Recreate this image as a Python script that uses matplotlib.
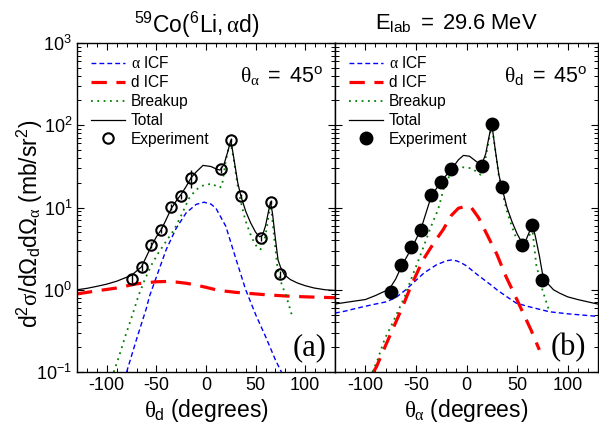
"""Angular correlations for 59Co(6Li, alpha d) at 29.6 MeV."""

import matplotlib

matplotlib.use("Agg")

import matplotlib.pyplot as plt
import numpy as np
from matplotlib.lines import Line2D
from matplotlib.ticker import FixedLocator, FuncFormatter, LogLocator, MultipleLocator, NullFormatter

plt.rcParams["font.family"] = "Liberation Sans"
plt.rcParams["mathtext.fontset"] = "custom"
plt.rcParams["mathtext.rm"] = "Liberation Sans"
plt.rcParams["mathtext.it"] = "Liberation Serif"
plt.rcParams["mathtext.default"] = "it"
plt.rcParams["axes.unicode_minus"] = False

# ---- data: panel (a), theta_alpha = 45 deg, versus theta_d ----
theta_exp = [-75, -65, -55, -45, -35, -25, -15, 15, 25, 35, 55, 65, 75]
a_exp = [1.37, 1.87, 3.5, 5.3, 10.1, 13.7, 23, 29, 66, 13.7, 4.3, 11.7, 1.55]
a_err = [0.12, 0.1, 0.08, 0.08, 0.08, 0.08, 0.25, 0.1, 0.06, 0.06, 0.08, 0.06, 0.1]

a_total_x = [-130, -120, -110, -100, -90, -80, -75, -65, -55, -50, -45, -40, -35, -30, -25, -20, -15,
             -10, -3, 5, 10, 14, 18, 22, 25, 28, 32, 35, 40, 45, 50, 54, 57, 60, 63, 65, 67, 70, 72.6,
             75, 79, 85, 92, 100, 109, 120, 130]
a_total_y = [1.0, 1.04, 1.1, 1.17, 1.27, 1.42, 1.5, 1.9, 3.4, 4.4, 5.4, 7.2, 9.7, 12, 14.5, 18, 23,
             27, 32.5, 31.5, 29.5, 28.5, 33, 48, 66, 40, 20, 14, 9, 6.5, 5, 4.4, 4.6, 6, 9, 11.7, 8.5,
             4.1, 2.3, 1.9, 1.52, 1.33, 1.21, 1.12, 1.05, 1.0, 0.98]

a_breakup_x = [-93, -88, -81, -74, -68, -62, -55, -48, -42, -32, -25, -17, -10, -3, 6, 13, 16, 19.6,
               23, 25, 28, 33, 39.5, 46, 52, 55, 58, 61, 64.4, 66, 69, 72.6, 77, 81, 87]
a_breakup_y = [0.1, 0.15, 0.28, 0.5, 0.85, 1.3, 2.0, 2.8, 3.6, 5.4, 8, 13, 16.5, 18.5, 19.5, 17.4, 18,
               35, 56, 60, 38, 15, 7.1, 4.3, 3.2, 3.1, 3.6, 5.4, 10, 9, 4.0, 1.6, 1.1, 0.83, 0.47]

a_alpha_x = [-80, -70, -60, -57, -50, -40, -30, -20, -10, -2, 5, 10, 20, 30, 40, 50, 60, 70, 76]
a_alpha_y = [0.1, 0.25, 0.6, 0.83, 1.43, 3.1, 5.6, 8.6, 10.9, 11.6, 11, 9.8, 5.9, 2.4, 1.0, 0.5, 0.27,
             0.14, 0.1]

a_dicf_x = [-130, -110, -90, -70, -50, -40, -30, -20, -10, 0, 10, 20, 30, 40, 60, 80, 100, 130]
a_dicf_y = [0.89, 0.97, 1.05, 1.18, 1.25, 1.26, 1.24, 1.2, 1.14, 1.07, 1.0, 0.96, 0.93, 0.91, 0.87,
            0.84, 0.82, 0.8]

# ---- data: panel (b), theta_d = 45 deg, versus theta_alpha ----
b_exp = [0.94, 2.0, 3.3, 5.3, 14, 20.6, 29.7, 32, 105, 17.6, 3.5, 6.15, 1.3]
b_err = [0.15, 0.1, 0.08, 0.08, 0.06, 0.06, 0.1, 0.08, 0.05, 0.06, 0.08, 0.06, 0.1]

b_total_x = [-130, -120, -110, -100, -90, -80, -75, -70, -65, -60, -53, -45, -35, -25, -15, -8, -3, 3,
             10, 15, 19, 22, 25, 28, 32, 35, 40, 45, 50, 54, 58, 62, 65, 68, 72, 75, 80, 86, 92, 100,
             110, 125, 130]
b_total_y = [0.67, 0.7, 0.73, 0.76, 0.85, 0.97, 1.08, 1.35, 1.84, 2.4, 3.4, 5.5, 13.5, 21, 29, 38, 43,
             42, 36, 33, 45, 70, 104, 55, 25, 17.5, 10, 6.7, 4.8, 3.9, 3.8, 5, 6.3, 4.5, 2.6, 1.6, 1.2,
             1.0, 0.91, 0.82, 0.76, 0.69, 0.67]

b_breakup_x = [-93, -88, -81, -74.6, -68, -61, -55, -48, -43, -35, -28, -22, -15, -5, 5, 14, 18, 22,
               25, 28, 32, 35, 40, 45, 50, 54, 57, 61, 65, 69, 75, 82]
b_breakup_y = [0.1, 0.14, 0.25, 0.36, 0.54, 0.83, 1.32, 2.2, 3.2, 5.9, 9.5, 18, 27, 31, 30, 25, 35, 65,
               100, 55, 24, 16, 9, 5.8, 4.0, 3.2, 3.2, 4.2, 5.6, 2.0, 1.0, 0.54]

b_alpha_x = [-130, -120, -110, -100, -90, -80, -70, -60, -50, -42, -30, -20, -15, -10, -5, 0, 10, 20,
             26, 30, 40, 49, 60, 82, 100, 125, 130]
b_alpha_y = [0.52, 0.55, 0.59, 0.63, 0.67, 0.71, 0.8, 1.0, 1.3, 1.6, 2.0, 2.25, 2.3, 2.25, 2.12, 1.95,
             1.55, 1.25, 1.1, 1.0, 0.82, 0.69, 0.63, 0.54, 0.51, 0.48, 0.47]

b_dicf_x = [-92, -89, -80, -70, -63, -55, -43, -33, -23, -15, -8, 0, 5, 12, 19.5, 30, 39, 48, 56, 64, 72]
b_dicf_y = [0.1, 0.116, 0.21, 0.4, 0.63, 1.1, 2.3, 3.6, 5.4, 8, 9.8, 10.4, 9.9, 7.5, 4.9, 2.7, 1.45,
            0.85, 0.52, 0.32, 0.186]

BLUE = "#0000ff"
RED = "#ff0000"
GREEN = "#008000"


def style_axes(ax, show_ylabels):
    ax.set_yscale("log")
    ax.set_xlim(-130, 130)
    ax.set_ylim(0.1, 1000)
    ax.xaxis.set_major_locator(FixedLocator([-100, -50, 0, 50, 100]))
    ax.xaxis.set_minor_locator(MultipleLocator(10))
    ax.yaxis.set_major_locator(LogLocator(base=10, numticks=10))
    ax.yaxis.set_minor_locator(LogLocator(base=10, subs=np.arange(2, 10), numticks=10))
    ax.yaxis.set_minor_formatter(NullFormatter())
    if show_ylabels:
        ax.yaxis.set_major_formatter(FuncFormatter(lambda v, p: r"$\mathrm{10^{%d}}$" % round(np.log10(v))))
    else:
        ax.yaxis.set_major_formatter(NullFormatter())
    ax.tick_params(which="both", direction="in", top=True, right=True, labelsize=13)
    ax.tick_params(which="major", length=5, width=0.8)
    ax.tick_params(which="minor", length=3, width=0.7)
    for spine in ax.spines.values():
        spine.set_linewidth(1.0)


def draw_panel(ax, exp_y, exp_err, total, breakup, alpha_icf, d_icf, filled):
    ax.plot(alpha_icf[0], alpha_icf[1], color=BLUE, lw=1.0, dashes=(3.5, 2.2))
    ax.plot(d_icf[0], d_icf[1], color=RED, lw=2.3, dashes=(4.8, 3))
    ax.plot(breakup[0], breakup[1], color=GREEN, lw=1.3, linestyle=(0, (1, 2.5)))
    ax.plot(total[0], total[1], color="black", lw=0.9)
    yerr = np.array(exp_y) * np.array(exp_err)
    ax.errorbar(theta_exp, exp_y, yerr=yerr, fmt="o", color="black",
                markerfacecolor="black" if filled else "none",
                markeredgewidth=1.5, markersize=8.5 if filled else 7.5,
                elinewidth=1.0, capsize=0, zorder=5)
    handles = [
        Line2D([], [], color=BLUE, lw=1.0, dashes=(3.5, 2.2)),
        Line2D([], [], color=RED, lw=2.3, dashes=(4.8, 3)),
        Line2D([], [], color=GREEN, lw=1.3, linestyle=(0, (1, 2.5))),
        Line2D([], [], color="black", lw=0.9),
        Line2D([], [], color="black", lw=0, marker="o", markersize=8.5 if filled else 7.5,
               markeredgewidth=1.5, markerfacecolor="black" if filled else "none"),
    ]
    labels = [r"$\alpha$ ICF", "d ICF", "Breakup", "Total", "Experiment"]
    ax.legend(handles, labels, loc="upper left", frameon=False, fontsize=11.2,
              handlelength=2.2, handletextpad=0.35, labelspacing=0.25,
              borderaxespad=0.5, bbox_to_anchor=(0.0, 1.005))


fig = plt.figure(figsize=(5.99, 4.28), dpi=100)
ax_a = fig.add_axes([77 / 599, 1 - 372 / 428, 258 / 599, 329 / 428])
ax_b = fig.add_axes([335 / 599, 1 - 372 / 428, 263 / 599, 329 / 428])

style_axes(ax_a, True)
style_axes(ax_b, False)

draw_panel(ax_a, a_exp, a_err, (a_total_x, a_total_y), (a_breakup_x, a_breakup_y),
           (a_alpha_x, a_alpha_y), (a_dicf_x, a_dicf_y), filled=False)
draw_panel(ax_b, b_exp, b_err, (b_total_x, b_total_y), (b_breakup_x, b_breakup_y),
           (b_alpha_x, b_alpha_y), (b_dicf_x, b_dicf_y), filled=True)

ax_a.set_xlabel(r"$\theta_\mathrm{d}\ \mathrm{(degrees)}$", fontsize=16.5, labelpad=2)
ax_b.set_xlabel(r"$\theta_\alpha\ \mathrm{(degrees)}$", fontsize=16.5, labelpad=2)

fig.text(30 / 599, 1 - 224 / 428,
         r"$\mathrm{d^2}\sigma\mathrm{/d}\Omega_\mathrm{d}\mathrm{d}\Omega_\alpha\ \mathrm{(mb/sr^2)}$",
         rotation=90, ha="center", va="center", fontsize=16.5)

fig.text(197 / 599, 1 - 33 / 428, r"$\mathrm{{}^{59}Co(^{6}Li,}\alpha\mathrm{d)}$",
         ha="center", va="baseline", fontsize=16.5)
fig.text(456 / 599, 1 - 29 / 428, r"$\mathrm{E_{lab}\ =\ 29.6\ MeV}$",
         ha="center", va="baseline", fontsize=15.8)

ax_a.text(0.953, 0.878, r"$\theta_\alpha\ \mathrm{=\ 45^o}$", transform=ax_a.transAxes,
          ha="right", va="baseline", fontsize=15.5)
ax_b.text(0.958, 0.878, r"$\theta_\mathrm{d}\ \mathrm{=\ 45^o}$", transform=ax_b.transAxes,
          ha="right", va="baseline", fontsize=15.5)

ax_a.text(0.903, 0.073, "(a)", transform=ax_a.transAxes, ha="center", va="center",
          fontsize=22, family="Liberation Serif")
ax_b.text(0.886, 0.073, "(b)", transform=ax_b.transAxes, ha="center", va="center",
          fontsize=22, family="Liberation Serif")

fig.savefig("out.png", dpi=100)
